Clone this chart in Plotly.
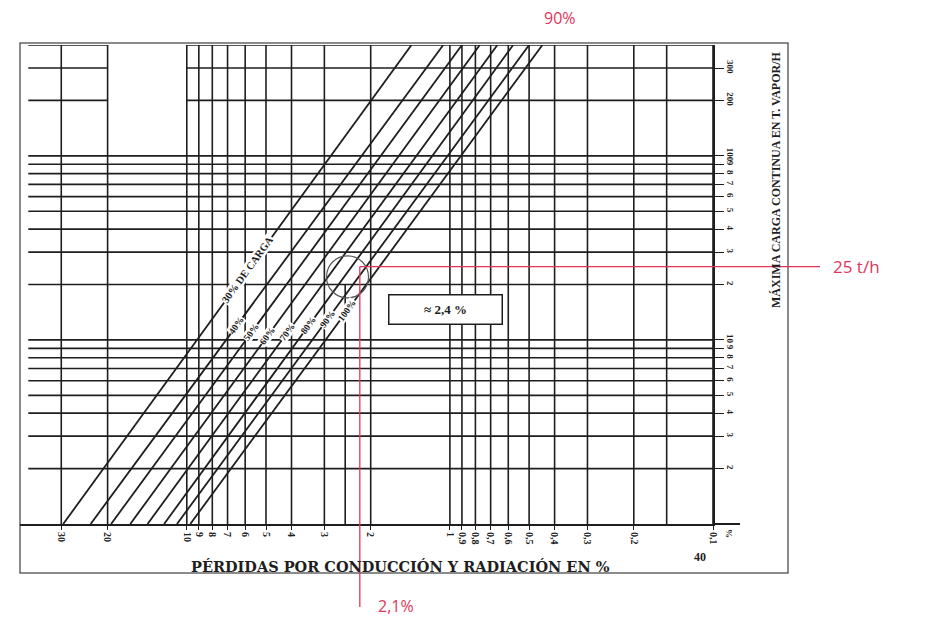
import numpy as np
import plotly.graph_objects as go

# ---------------- data ----------------
load_labels = ['30% DE CARGA', '40%', '50%', '60%', '70%', '80%', '90%', '100%']
loss_at_1t = [29.5, 23.2, 19.4, 16.4, 14.1, 12.2, 10.9, 9.7]        # % losses at 1 t/h
loss_at_400t = [1.40, 1.06, 0.90, 0.77, 0.66, 0.575, 0.50, 0.445]   # % losses at 400 t/h
label_load = [24, 12, 11, 10.5, 11, 12, 13, 14.5]                   # t/h where each label sits

x_ticks = [30, 20, 10, 9, 8, 7, 6, 5, 4, 3, 2, 1, 0.9, 0.8, 0.7, 0.6, 0.5, 0.4, 0.3, 0.2, 0.1]
x_tick_text = ['30', '20', '10', '9', '8', '7', '6', '5', '4', '3', '2', '1',
               '0,9', '0,8', '0,7', '0,6', '0,5', '0,4', '0,3', '0,2', '0,1']
y_ticks = [300, 200, 100, 90, 80, 70, 60, 50, 40, 30, 20, 10, 9, 8, 7, 6, 5, 4, 3, 2]
y_tick_text = ['300', '200', '100', '9', '8', '7', '6', '5', '4', '3', '2',
               '10', '9', '8', '7', '6', '5', '4', '3', '2']

x_grid = [30, 20, 10, 9, 8, 7, 6, 5, 4, 3, 2, 1, 0.9, 0.8, 0.7, 0.6, 0.5, 0.4, 0.3, 0.2, 0.15, 0.1]
x_grid_lower = [2.5]
y_grid_full = [2, 3, 4, 5, 6, 7, 8, 9, 10, 20, 30, 40, 50, 60, 70, 80, 90, 100]
y_grid_split = [200, 300, 400]
split_gap = (20, 10)

example_load = 25      # t/h
example_loss = 2.2     # % read on the x axis (annotated as 2,1 %)
circle_loss, circle_load = 2.45, 22

X_LEFT, X_RIGHT = 1.634, -1.0       # log10 range (reversed)
Y_BOT, Y_TOP = 0.0, np.log10(400)
L_MIN, L_MAX = 1, 400

RED = '#e0355b'
INK = '#1e1e1e'
SERIF = 'Liberation Serif'

# page offset (browser body margin) and plot area in screen pixels
OFF = 8
W, H = 944 - OFF, 617 - OFF
PL, PR, PT, PB = 20, 713, 45, 524


def px_x(px):
    return (px - PL) / (PR - PL)


def px_y(py):
    return (PB - py) / (PB - PT)


def xfrac(p):
    return (X_LEFT - np.log10(p)) / (X_LEFT - X_RIGHT)


def yfrac(L):
    return (np.log10(L) - Y_BOT) / (Y_TOP - Y_BOT)


fig = go.Figure()

# ---------------- grid ----------------
gx, gy = [], []
for v in x_grid:
    gx += [v, v, None]
    gy += [L_MIN, L_MAX, None]
for v in x_grid_lower:
    gx += [v, v, None]
    gy += [L_MIN, 20, None]
p_left, p_right = 10 ** X_LEFT, 10 ** X_RIGHT
for h in y_grid_full:
    gx += [p_left * 0.93, p_right, None]
    gy += [h, h, None]
for h in y_grid_split:
    gx += [p_left * 0.93, split_gap[0], None, split_gap[1], p_right, None]
    gy += [h, h, None, h, h, None]
fig.add_trace(go.Scatter(x=gx, y=gy, mode='lines', line=dict(color=INK, width=1.6),
                         hoverinfo='skip', showlegend=False))

# ---------------- load lines ----------------
for i, name in enumerate(load_labels):
    fig.add_trace(go.Scatter(x=[loss_at_1t[i], loss_at_400t[i]], y=[L_MIN, L_MAX],
                             mode='lines', line=dict(color=INK, width=1.8),
                             name=name, showlegend=False))

# line labels placed on the lines
annotations = []
for i, name in enumerate(load_labels):
    lp1, lp2 = np.log10(loss_at_1t[i]), np.log10(loss_at_400t[i])
    t = np.log10(label_load[i]) / np.log10(L_MAX)
    lp = lp1 + (lp2 - lp1) * t
    annotations.append(dict(x=lp, y=np.log10(label_load[i]), xref='x', yref='y',
                            xanchor='center', yanchor='middle',
                            text=name, showarrow=False, textangle=-54,
                            bgcolor='white', borderpad=0,
                            font=dict(family=SERIF, size=10.5 if i == 0 else 9.5,
                                      color=INK, weight='bold')))

# circle around the reading
fig.add_trace(go.Scatter(x=[circle_loss], y=[circle_load], mode='markers',
                         marker=dict(symbol='circle-open', size=42, color='#555',
                                     line=dict(width=1.2)),
                         hoverinfo='skip', showlegend=False))


def note(px, py, text, font, **kw):
    d = dict(x=px_x(px), y=px_y(py), xref='paper', yref='paper', text=text,
             showarrow=False, xanchor='center', yanchor='middle', font=font)
    d.update(kw)
    return d


# ---------------- text ----------------
annotations += [
    note(446, 309, '≈ 2,4 %', dict(family=SERIF, size=13, color=INK, weight='bold'),
         bgcolor='white', bordercolor=INK, borderwidth=1.5, width=110, height=26),
    note(400, 566, 'PÉRDIDAS POR CONDUCCIÓN Y RADIACIÓN EN %',
         dict(family='DejaVu Serif', size=14.5, color=INK, weight='bold')),
    note(776, 180, 'MÁXIMA CARGA CONTINUA EN T. VAPOR/H',
         dict(family=SERIF, size=12, color=INK, weight='bold'), textangle=-90),
    note(729, 533, '%', dict(family=SERIF, size=9, color=INK, weight='bold'), textangle=90),
    note(700, 557, '40', dict(family=SERIF, size=12, color=INK, weight='bold')),
    note(560, 18, '90%', dict(family='Open Sans', size=16, color=RED)),
    dict(x=px_x(831), y=yfrac(example_load), xref='paper', yref='paper', text='25 t/h',
         xanchor='left', yanchor='middle', showarrow=False,
         font=dict(family='Open Sans', size=17, color=RED)),
    note(376, 606, '2,1%', dict(family='Open Sans', size=16, color=RED), xanchor='left'),
]

shapes = [
    # scan frame
    dict(type='rect', xref='paper', yref='paper', x0=0, x1=px_x(788), y0=px_y(573), y1=px_y(43),
         line=dict(color='#666', width=1.5), layer='below'),
    # x axis extension
    dict(type='line', xref='paper', yref='paper', x0=1, x1=px_x(740), y0=0, y1=0,
         line=dict(color=INK, width=2)),
    # red reading lines
    dict(type='line', xref='paper', yref='paper', x0=xfrac(example_loss), x1=px_x(820),
         y0=yfrac(example_load), y1=yfrac(example_load), line=dict(color=RED, width=1.3)),
    dict(type='line', xref='paper', yref='paper', x0=xfrac(example_loss), x1=xfrac(example_loss),
         y0=yfrac(example_load), y1=px_y(607), line=dict(color=RED, width=1.3)),
]

fig.update_layout(
    width=W, height=H,
    margin=dict(l=PL - OFF, r=W - (PR - OFF), t=PT - OFF, b=H - (PB - OFF)),
    paper_bgcolor='white', plot_bgcolor='white',
    annotations=annotations, shapes=shapes,
    xaxis=dict(type='log', range=[X_LEFT, X_RIGHT], tickvals=x_ticks, ticktext=x_tick_text,
               tickangle=90, ticks='outside', ticklen=4, tickcolor=INK, showgrid=False,
               zeroline=False, showline=True, linecolor=INK, linewidth=2,
               tickfont=dict(family=SERIF, size=10, color=INK, weight='bold')),
    yaxis=dict(type='log', range=[Y_BOT, Y_TOP], side='right', tickvals=y_ticks,
               ticktext=y_tick_text, tickangle=90, ticks='outside', ticklen=9, tickcolor=INK,
               showgrid=False, zeroline=False, showline=True, linecolor=INK, linewidth=1.5,
               tickfont=dict(family=SERIF, size=9, color=INK, weight='bold')),
)

fig.write_html('out.html')
